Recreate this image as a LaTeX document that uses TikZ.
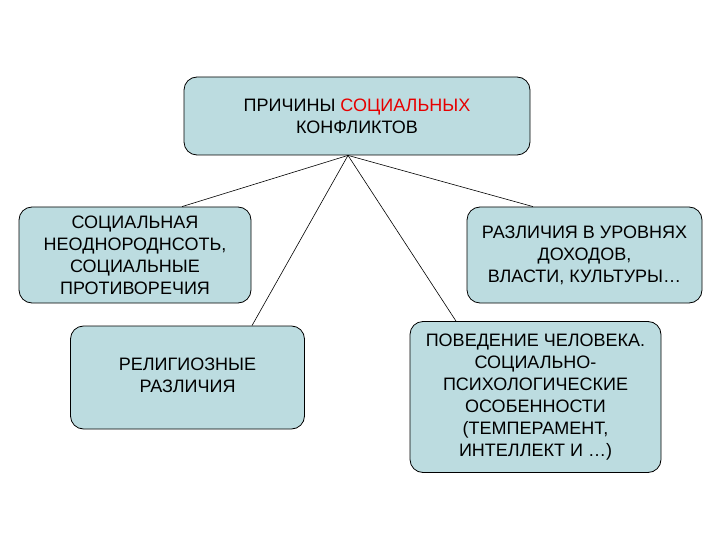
\documentclass[tikz,border=0pt]{standalone}
\usepackage{fontspec}
\setmainfont{Liberation Sans}
\definecolor{boxfill}{RGB}{188,220,224}
\definecolor{redtxt}{RGB}{230,0,0}
\begin{document}
\begin{tikzpicture}[x=1pt,y=-1pt,
  box/.style={draw=black, line width=0.8pt, fill=boxfill, rounded corners=13pt,
    inner sep=0pt, align=center, font=\fontsize{18}{22}\selectfont},
  link/.style={draw=black, line width=0.6pt}]
\useasboundingbox (0,0) rectangle (720,540);
% boxes
\node[box, minimum width=346pt, minimum height=78pt] (top) at (357,116)
  {ПРИЧИНЫ \textcolor{redtxt}{СОЦИАЛЬНЫХ}\\КОНФЛИКТОВ};
\node[box, minimum width=232pt, minimum height=96pt] (b1) at (135,255)
  {СОЦИАЛЬНАЯ\\НЕОДНОРОДНСОТЬ,\\СОЦИАЛЬНЫЕ\\ПРОТИВОРЕЧИЯ};
\node[box, minimum width=234pt, minimum height=103pt] (b2) at (187.5,377.5)
  {\raisebox{-3pt}{\begin{tabular}{@{}c@{}}РЕЛИГИОЗНЫЕ\\РАЗЛИЧИЯ\end{tabular}}};
\node[box, minimum width=235pt, minimum height=96pt] (b3) at (584.5,255)
  {РАЗЛИЧИЯ В УРОВНЯХ\\ДОХОДОВ,\\ВЛАСТИ, КУЛЬТУРЫ…};
\node[box, minimum width=251pt, minimum height=151pt] (b4) at (535.5,397)
  {ПОВЕДЕНИЕ ЧЕЛОВЕКА.\\СОЦИАЛЬНО-\\ПСИХОЛОГИЧЕСКИЕ\\ОСОБЕННОСТИ\\(ТЕМПЕРАМЕНТ,\\ИНТЕЛЛЕКТ И …)};
% connectors
\coordinate (hub) at (top.south -| 348,0);
\coordinate (e1) at (b1.north -| 182,0);
\coordinate (e2) at (b2.north -| 252,0);
\coordinate (e3) at (b3.north -| 533,0);
\coordinate (e4) at (b4.north -| 456,0);
\draw[link] (hub) -- (e1);
\draw[link] (hub) -- (e2);
\draw[link] (hub) -- (e3);
\draw[link] (hub) -- (e4);
\end{tikzpicture}
\end{document}
